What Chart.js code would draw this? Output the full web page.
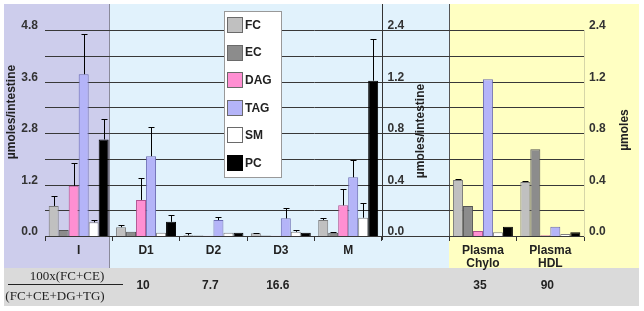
<!DOCTYPE html>
<html>
<head>
<meta charset="utf-8">
<script src="https://cdn.jsdelivr.net/npm/chart.js@4"></script>
<style>
  body { margin: 0; background: #fff; }
  canvas { display: block; }
</style>
</head>
<body>
<canvas id="lipid-chart" width="644" height="311"></canvas>
<script>
// categories (index 5 is the empty gap between the intestine and plasma panels)
var categories = ['I', 'D1', 'D2', 'D3', 'M', '', ['Plasma', 'Chylo'], ['Plasma', 'HDL']];
var lipids = ['FC', 'EC', 'DAG', 'TAG', 'SM', 'PC'];

// I is read on the left axis, all others on the right axes
var fcValues  = [0.70, 0.068, 0.005, 0.021, 0.124, null, 0.435, 0.42];
var ecValues  = [0.14, 0.033, 0.003, 0.003, 0.026, null, 0.233, 0.673];
var dagValues = [1.17, 0.28, 0.002, 0.002, 0.238, null, 0.039, 0.005];
var tagValues = [3.77, 0.62, 0.124, 0.137, 0.456, null, 1.217, 0.072];
var smValues  = [0.32, 0.026, 0.026, 0.033, 0.142, null, 0.029, 0.016];
var pcValues  = [2.25, 0.11, 0.026, 0.026, 1.206, null, 0.072, 0.029];

// error bars (upper half only)
var fcErr  = [0.23, 0.017, 0.018, 0.004, 0.013, null, 0.004, 0.004];
var ecErr  = [0, 0, 0, 0, 0.004, null, 0, 0];
var dagErr = [0.53, 0.173, 0, 0, 0.125, null, 0, 0];
var tagErr = [0.94, 0.229, 0.026, 0.083, 0.134, null, 0, 0];
var smErr  = [0.05, 0, 0, 0.014, 0.112, null, 0, 0];
var pcErr  = [0.47, 0.053, 0, 0, 0.324, null, 0, 0];

// tick labels as printed on the figure
var leftTickLabels  = ['0.0', '', '1.2', '', '2.8', '', '3.6', '', '4.8'];
var rightTickLabels = ['0.0', '', '0.4', '', '0.8', '', '1.2', '', '2.4'];

// row under the chart: 100x(FC+CE)/(FC+CE+DG+TG)
var ratioLabels = ['', '10', '7.7', '16.6', '', '', '35', '90'];

var values = [fcValues, ecValues, dagValues, tagValues, smValues, pcValues];
var errors = [fcErr, ecErr, dagErr, tagErr, smErr, pcErr];
var fills = ['#c0c0c0', '#8c8c8c', '#ff8fd2', '#b4b4f8', '#ffffff', '#000000'];
var borders = ['#7a7a7a', '#555555', '#b0508f', '#6c6cb4', '#808080', '#000000'];

var FONT = '"Liberation Sans", Arial, sans-serif';

var datasets = [];
lipids.forEach(function (name, i) {
    datasets.push({
        label: name,
        data: values[i].map(function (v, j) { return j === 0 ? v : null; }),
        errors: errors[i].map(function (v, j) { return j === 0 ? v : null; }),
        yAxisID: 'y',
        backgroundColor: fills[i],
        borderColor: borders[i],
        borderWidth: 1
    });
});
lipids.forEach(function (name, i) {
    datasets.push({
        label: name,
        data: values[i].map(function (v, j) { return j === 0 ? null : v; }),
        errors: errors[i].map(function (v, j) { return j === 0 ? null : v; }),
        yAxisID: 'y2',
        backgroundColor: fills[i],
        borderColor: borders[i],
        borderWidth: 1
    });
});

// panel backgrounds, bottom band and grid lines
var backgroundPlugin = {
    id: 'panels',
    beforeDraw: function (chart) {
        var ctx = chart.ctx;
        ctx.save();
        ctx.fillStyle = '#cdcdec';
        ctx.fillRect(4, 4, 106, 264);
        ctx.fillStyle = '#e1f2fc';
        ctx.fillRect(110, 4, 339, 264);
        ctx.fillStyle = '#ffffc2';
        ctx.fillRect(449, 4, 190, 264);
        ctx.fillStyle = '#dadada';
        ctx.fillRect(4, 268, 635, 38);
        ctx.strokeStyle = '#8a8a9a';
        ctx.lineWidth = 1;
        ctx.beginPath();
        ctx.moveTo(109.5, 4); ctx.lineTo(109.5, 268);
        ctx.stroke();
        ctx.strokeStyle = '#555';
        ctx.beginPath();
        ctx.moveTo(449.5, 4); ctx.lineTo(449.5, 240);
        ctx.stroke();
        ctx.restore();
    },
    beforeDatasetsDraw: function (chart) {
        var ctx = chart.ctx;
        var area = chart.chartArea;
        var ys = chart.scales.y;
        ctx.save();
        ctx.strokeStyle = '#383838';
        ctx.lineWidth = 1;
        ys.ticks.forEach(function (t) {
            var py = Math.round(ys.getPixelForValue(t.value)) + 0.5;
            ctx.beginPath();
            ctx.moveTo(area.left, py);
            ctx.lineTo(area.right, py);
            ctx.stroke();
        });
        ctx.restore();
    }
};

// error bars
var errorBarPlugin = {
    id: 'errorBars',
    afterDatasetsDraw: function (chart) {
        var ctx = chart.ctx;
        ctx.save();
        ctx.strokeStyle = '#000';
        ctx.lineWidth = 1;
        chart.data.datasets.forEach(function (ds, di) {
            var meta = chart.getDatasetMeta(di);
            var scale = chart.scales[ds.yAxisID];
            meta.data.forEach(function (bar, j) {
                var v = ds.data[j], e = ds.errors[j];
                if (v == null || !e) return;
                var x = Math.round(bar.x) + 0.5;
                var yTop = Math.round(scale.getPixelForValue(v + e)) + 0.5;
                ctx.beginPath();
                ctx.moveTo(x, bar.y);
                ctx.lineTo(x, yTop);
                ctx.moveTo(x - 3, yTop);
                ctx.lineTo(x + 3, yTop);
                ctx.stroke();
            });
        });
        ctx.restore();
    }
};

// middle axis, axis titles, legend box and ratio row
var extrasPlugin = {
    id: 'extras',
    afterDraw: function (chart) {
        var ctx = chart.ctx;
        var xs = chart.scales.x;
        var y2 = chart.scales.y2;
        var midX = Math.round((xs.getPixelForValue(4) + xs.getPixelForValue(5)) / 2) + 0.5;
        ctx.save();

        // middle axis line with its labels
        ctx.strokeStyle = '#333';
        ctx.lineWidth = 1;
        ctx.beginPath();
        ctx.moveTo(midX, 4);
        ctx.lineTo(midX, chart.chartArea.bottom + 4);
        ctx.stroke();
        ctx.fillStyle = '#333';
        ctx.font = 'bold 12px ' + FONT;
        ctx.textAlign = 'left';
        ctx.textBaseline = 'middle';
        y2.ticks.forEach(function (t, i) {
            if (rightTickLabels[i]) ctx.fillText(rightTickLabels[i], midX + 5, y2.getPixelForValue(t.value) - 4);
        });

        // rotated axis titles
        function vText(text, x, y) {
            ctx.save();
            ctx.translate(x, y);
            ctx.rotate(-Math.PI / 2);
            ctx.textAlign = 'center';
            ctx.textBaseline = 'middle';
            ctx.fillText(text, 0, 0);
            ctx.restore();
        }
        ctx.fillStyle = '#222';
        vText('µmoles/intestine', 12, 112);
        vText('µmoles/intestine', 421, 131);
        vText('µmoles', 625, 130);

        // legend
        ctx.fillStyle = '#fff';
        ctx.fillRect(224.5, 11.5, 57, 166);
        ctx.strokeStyle = '#999';
        ctx.strokeRect(224.5, 11.5, 57, 166);
        ctx.font = 'bold 12px ' + FONT;
        ctx.textAlign = 'left';
        ctx.textBaseline = 'middle';
        lipids.forEach(function (name, i) {
            var cy = 24.5 + i * 27.6;
            ctx.fillStyle = fills[i];
            ctx.fillRect(227.5, Math.round(cy - 7.5) + 0.5, 15, 15);
            ctx.strokeStyle = borders[i] === '#000000' ? '#000' : '#6a6a6a';
            ctx.strokeRect(227.5, Math.round(cy - 7.5) + 0.5, 15, 15);
            ctx.fillStyle = '#222';
            ctx.fillText(name, 245, cy + 1);
        });

        // ratio row
        ctx.fillStyle = '#222';
        ctx.font = '13px "Liberation Serif", "Times New Roman", serif';
        ctx.textAlign = 'center';
        ctx.fillText('100x(FC+CE)', 67, 277);
        ctx.fillText('(FC+CE+DG+TG)', 55, 297);
        ctx.strokeStyle = '#222';
        ctx.beginPath();
        ctx.moveTo(8, 284.5);
        ctx.lineTo(123, 284.5);
        ctx.stroke();
        ctx.font = 'bold 12px ' + FONT;
        ratioLabels.forEach(function (txt, j) {
            if (txt) ctx.fillText(txt, xs.getPixelForValue(j) - 3, 286);
        });
        ctx.restore();
    }
};

var canvas = document.getElementById('lipid-chart');
var context = canvas.getContext('2d');
var chart = new Chart(context, {
    type: 'bar',
    data: { labels: categories, datasets: datasets },
    options: {
        responsive: false,
        animation: false,
        layout: { padding: { top: 30, left: 0, right: 0, bottom: 0 } },
        datasets: { bar: { categoryPercentage: 0.89, barPercentage: 1, skipNull: true } },
        plugins: { legend: { display: false }, tooltip: { enabled: false } },
        scales: {
            x: {
                offset: true,
                grid: { drawOnChartArea: false, drawTicks: true, tickLength: 5, color: '#333', offset: true },
                border: { display: true, color: '#333', width: 1 },
                ticks: {
                    color: '#222', padding: 3, maxRotation: 0, autoSkip: false,
                    font: { family: FONT, size: 12, weight: 'bold', lineHeight: 1.1 }
                },
                afterFit: function (s) { s.height = 75; }
            },
            y: {
                position: 'left',
                min: 0, max: 4.8,
                ticks: {
                    count: 9, padding: 7, labelOffset: -4, color: '#333',
                    font: { family: FONT, size: 12, weight: 'bold' },
                    callback: function (v, i) { return leftTickLabels[i]; }
                },
                grid: { display: false, drawTicks: false },
                border: { display: false },
                afterFit: function (s) { s.width = 45; }
            },
            y2: {
                position: 'right',
                min: 0, max: 1.6,
                ticks: {
                    count: 9, padding: 5, labelOffset: -4, color: '#333',
                    font: { family: FONT, size: 12, weight: 'bold' },
                    callback: function (v, i) { return rightTickLabels[i]; }
                },
                grid: { display: false, drawTicks: false },
                border: { color: '#d6d6a8' },
                afterFit: function (s) { s.width = 60; }
            }
        }
    },
    plugins: [backgroundPlugin, errorBarPlugin, extrasPlugin]
});
</script>
</body>
</html>
